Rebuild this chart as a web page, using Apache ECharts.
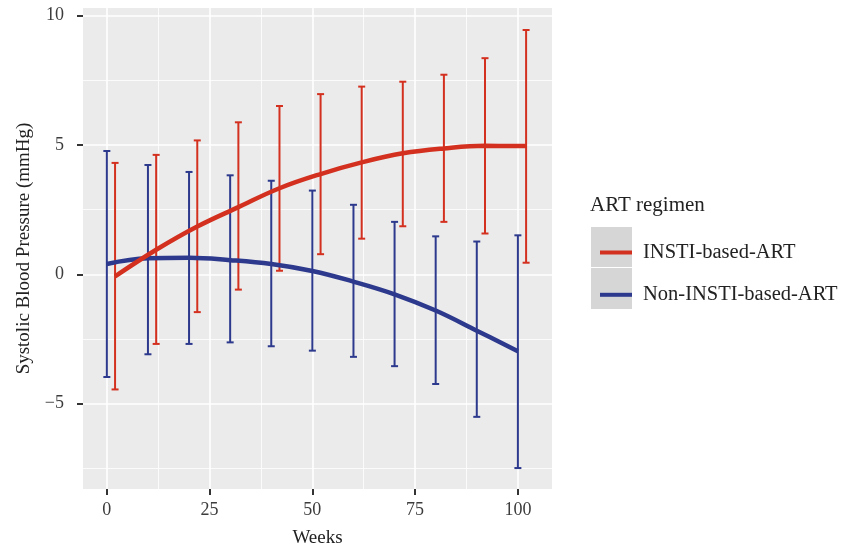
<!DOCTYPE html>
<html>
<head>
<meta charset="utf-8">
<script src="https://cdn.jsdelivr.net/npm/echarts@6/dist/echarts.min.js"></script>
<style>
  html, body { margin: 0; padding: 0; background: #fff; }
  #chart { width: 851px; height: 553px; }
</style>
</head>
<body>
<div id="chart"></div>
<script>
// Weeks (blue bars sit on the tick, red ones are nudged 2 weeks right)
const weeksBlue = [0, 10, 20, 30, 40, 50, 60, 70, 80, 90, 100];
const weeksRed = [2, 12, 22, 32, 42, 52, 62, 72, 82, 92, 102];

// INSTI-based-ART
const redMean = [-0.08, 0.95, 1.85, 2.6, 3.33, 3.88, 4.33, 4.68, 4.87, 4.97, 4.96];
const redLow = [-4.45, -2.69, -1.46, -0.59, 0.14, 0.78, 1.38, 1.86, 2.03, 1.58, 0.45];
const redHigh = [4.31, 4.62, 5.18, 5.88, 6.51, 6.97, 7.26, 7.45, 7.72, 8.36, 9.45];

// Non-INSTI-based-ART
const blueMean = [0.40, 0.62, 0.64, 0.55, 0.40, 0.13, -0.28, -0.77, -1.40, -2.18, -2.97];
const blueLow = [-3.97, -3.09, -2.69, -2.63, -2.78, -2.95, -3.19, -3.55, -4.24, -5.51, -7.49];
const blueHigh = [4.77, 4.23, 3.96, 3.83, 3.62, 3.24, 2.69, 2.03, 1.47, 1.27, 1.51];

// Tick labels
const xTicks = [0, 25, 50, 75, 100];
const xMinor = [12.5, 37.5, 62.5, 87.5];
const yTicks = [-5, 0, 5, 10];
const yMinor = [-7.5, -2.5, 2.5, 7.5];

const RED = '#d3301f';
const BLUE = '#2c398c';
const FONT = 'Liberation Serif';

function errorBars(name, weeks, low, high, color) {
    return {
        type: 'custom',
        name: name,
        z: 2,
        data: weeks.map((w, i) => [w, low[i], high[i]]),
        encode: { x: 0, y: [1, 2] },
        renderItem: function (params, api) {
            const x = api.value(0);
            const lo = api.coord([x, api.value(1)]);
            const hi = api.coord([x, api.value(2)]);
            const half = 3.5;
            const style = { stroke: color, lineWidth: 2 };
            return {
                type: 'group',
                children: [
                    { type: 'line', shape: { x1: lo[0], y1: lo[1], x2: hi[0], y2: hi[1] }, style: style },
                    { type: 'line', shape: { x1: lo[0] - half, y1: lo[1], x2: lo[0] + half, y2: lo[1] }, style: style },
                    { type: 'line', shape: { x1: hi[0] - half, y1: hi[1], x2: hi[0] + half, y2: hi[1] }, style: style }
                ]
            };
        }
    };
}

function meanLine(name, weeks, values, color, z) {
    return {
        type: 'line',
        name: name,
        z: z,
        data: weeks.map((w, i) => [w, values[i]]),
        smooth: 0.4,
        showSymbol: false,
        lineStyle: { color: color, width: 4.5 },
        itemStyle: { color: color }
    };
}

const chart = echarts.init(document.getElementById('chart'));

const tickLabel = { fontFamily: FONT, fontSize: 18, color: '#3c3c3c' };

const option = {
    backgroundColor: '#fff',
    animation: false,
    grid: {
        left: 83, right: 299, top: 8, bottom: 61,
        show: true, backgroundColor: '#ebebeb', borderWidth: 0
    },
    xAxis: [{
        type: 'value',
        min: -5.8, max: 108.3,
        name: 'Weeks',
        nameLocation: 'middle',
        nameGap: 40,
        nameTextStyle: { fontFamily: FONT, fontSize: 19, color: '#222' },
        axisLine: { show: false, onZero: false },
        axisTick: { show: true, length: 6, customValues: xTicks, lineStyle: { color: '#333', width: 2 } },
        axisLabel: Object.assign({ customValues: xTicks, margin: 12 }, tickLabel),
        splitLine: { show: true, lineStyle: { color: '#fff', width: 1.6 } }
    }, {
        type: 'value',
        min: -5.8, max: 108.3,
        position: 'top',
        axisLine: { show: false, onZero: false },
        axisTick: { show: false, customValues: xMinor },
        axisLabel: { show: false, customValues: xMinor },
        splitLine: { show: true, lineStyle: { color: '#fff', width: 0.8 } }
    }],
    yAxis: [{
        type: 'value',
        min: -8.3, max: 10.3,
        name: 'Systolic Blood Pressure (mmHg)',
        nameLocation: 'middle',
        nameGap: 48,
        nameTextStyle: { fontFamily: FONT, fontSize: 19, color: '#222' },
        axisLine: { show: false, onZero: false },
        axisTick: { show: true, length: 6, customValues: yTicks, lineStyle: { color: '#333', width: 2 } },
        axisLabel: Object.assign({
            customValues: yTicks, margin: 19,
            formatter: v => String(v).replace('-', '\u2212')
        }, tickLabel),
        splitLine: { show: true, lineStyle: { color: '#fff', width: 1.6 } }
    }, {
        type: 'value',
        min: -8.3, max: 10.3,
        position: 'right',
        axisLine: { show: false, onZero: false },
        axisTick: { show: false, customValues: yMinor },
        axisLabel: { show: false, customValues: yMinor },
        splitLine: { show: true, lineStyle: { color: '#fff', width: 0.8 } }
    }],
    legend: {
        data: ['INSTI-based-ART', 'Non-INSTI-based-ART'],
        orient: 'vertical',
        left: 595,
        top: 237,
        icon: 'rect',
        itemWidth: 32,
        itemHeight: 4,
        itemGap: 21.3,
        selectedMode: false,
        textStyle: { fontFamily: FONT, fontSize: 20.5, lineHeight: 20, color: '#222', padding: [0, 0, 0, 6] }
    },
    graphic: [
        { type: 'rect', shape: { x: 591, y: 227, width: 41, height: 40 }, style: { fill: '#d6d6d6' }, z: 0 },
        { type: 'rect', shape: { x: 591, y: 268, width: 41, height: 41 }, style: { fill: '#d6d6d6' }, z: 0 },
        { type: 'text', left: 590, top: 195, style: { text: 'ART regimen', font: '21px "Liberation Serif"', fill: '#222' } }
    ],
    series: [
        errorBars('Non-INSTI bars', weeksBlue, blueLow, blueHigh, BLUE),
        errorBars('INSTI bars', weeksRed, redLow, redHigh, RED),
        meanLine('Non-INSTI-based-ART', weeksBlue, blueMean, BLUE, 3),
        meanLine('INSTI-based-ART', weeksRed, redMean, RED, 4)
    ]
};

chart.setOption(option);
</script>
</body>
</html>
